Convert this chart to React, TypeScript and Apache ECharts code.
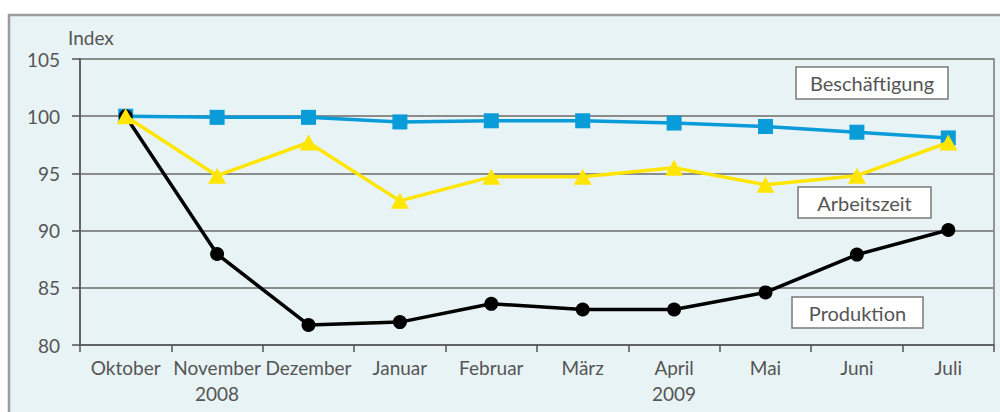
import React, { useEffect, useRef } from "react";
import * as echarts from "echarts";

const months = ["Oktober", "November\n2008", "Dezember", "Januar", "Februar", "März", "April\n2009", "Mai", "Juni", "Juli"];
const beschaeftigung = [100, 99.9, 99.9, 99.5, 99.6, 99.6, 99.4, 99.1, 98.6, 98.1];
const arbeitszeit = [100, 94.8, 97.7, 92.6, 94.7, 94.7, 95.5, 94.0, 94.8, 97.7];
const produktion = [100, 87.95, 81.75, 82.0, 83.6, 83.1, 83.1, 84.6, 87.9, 90.05];
const yTicks = { min: 80, max: 105, interval: 5 };

const FONT = "Lato";
const TXT = "#555";

function labelBox(text: string, x: number, y: number, w: number, h: number) {
  return {
    type: "group",
    x,
    y,
    z: 100,
    children: [
      { type: "rect", shape: { x: 0, y: 0, width: w, height: h }, style: { fill: "#fff", stroke: "#7a7a7a", lineWidth: 1.5 } },
      {
        type: "text",
        style: { text, x: w / 2, y: h / 2, align: "center", verticalAlign: "middle", fill: TXT, font: `20px ${FONT}` },
      },
    ],
  };
}

export default function App() {
  const ref = useRef<HTMLDivElement>(null);
  useEffect(() => {
    const chart = echarts.init(ref.current!, undefined, { renderer: "svg" });
    chart.setOption({
      animation: false,
      textStyle: { fontFamily: FONT },
      grid: { left: 80, right: 6, top: 59, bottom: 67, show: true, borderColor: "#777", borderWidth: 1.5, backgroundColor: "transparent" },
      graphic: [
        { type: "rect", z: -10, shape: { x: 9, y: 15, width: 1000, height: 410 }, style: { fill: "#e8f3f5", stroke: "#9c9c9c", lineWidth: 2.5 } },
        { type: "text", z: 100, style: { text: "Index", x: 68, y: 37, verticalAlign: "middle", fill: TXT, font: `19px ${FONT}` } },
        labelBox("Beschäftigung", 796, 67, 152, 32),
        labelBox("Arbeitszeit", 798, 187, 133, 31),
        labelBox("Produktion", 792, 297, 131, 31),
      ],
      xAxis: {
        type: "category",
        data: months,
        boundaryGap: true,
        axisLine: { lineStyle: { color: "#555", width: 1.5 } },
        axisTick: { show: true, inside: false, length: 7, interval: 0, lineStyle: { color: "#555", width: 1.5 } },
        axisLabel: { color: TXT, fontSize: 19, fontFamily: FONT, margin: 9, lineHeight: 26, interval: 0 },
        splitLine: { show: false },
      },
      yAxis: {
        type: "value",
        min: yTicks.min,
        max: yTicks.max,
        interval: yTicks.interval,
        axisLine: { show: true, lineStyle: { color: "#555", width: 1.5 } },
        axisTick: { show: true, inside: false, length: 8, lineStyle: { color: "#555", width: 1.5 } },
        axisLabel: { color: TXT, fontSize: 19, fontFamily: FONT, margin: 20 },
        splitLine: { show: true, lineStyle: { color: "#8c8c8c", width: 2 } },
      },
      series: [
        {
          name: "Beschäftigung",
          type: "line",
          data: beschaeftigung,
          symbol: "rect",
          symbolSize: 15,
          lineStyle: { color: "#0a9bd9", width: 3.5 },
          itemStyle: { color: "#0a9bd9" },
          z: 2,
        },
        {
          name: "Produktion",
          type: "line",
          data: produktion,
          symbol: "circle",
          symbolSize: 14,
          lineStyle: { color: "#000", width: 3.5 },
          itemStyle: { color: "#000" },
          z: 3,
        },
        {
          name: "Arbeitszeit",
          type: "line",
          data: arbeitszeit,
          symbol: "triangle",
          symbolSize: [18, 16],
          lineStyle: { color: "#ffe600", width: 3.5 },
          itemStyle: { color: "#ffe600" },
          z: 4,
        },
      ],
    });
    return () => chart.dispose();
  }, []);
  return <div ref={ref} style={{ position: "fixed", left: 0, top: 0, width: 1000, height: 412, background: "#fff" }} />;
}
